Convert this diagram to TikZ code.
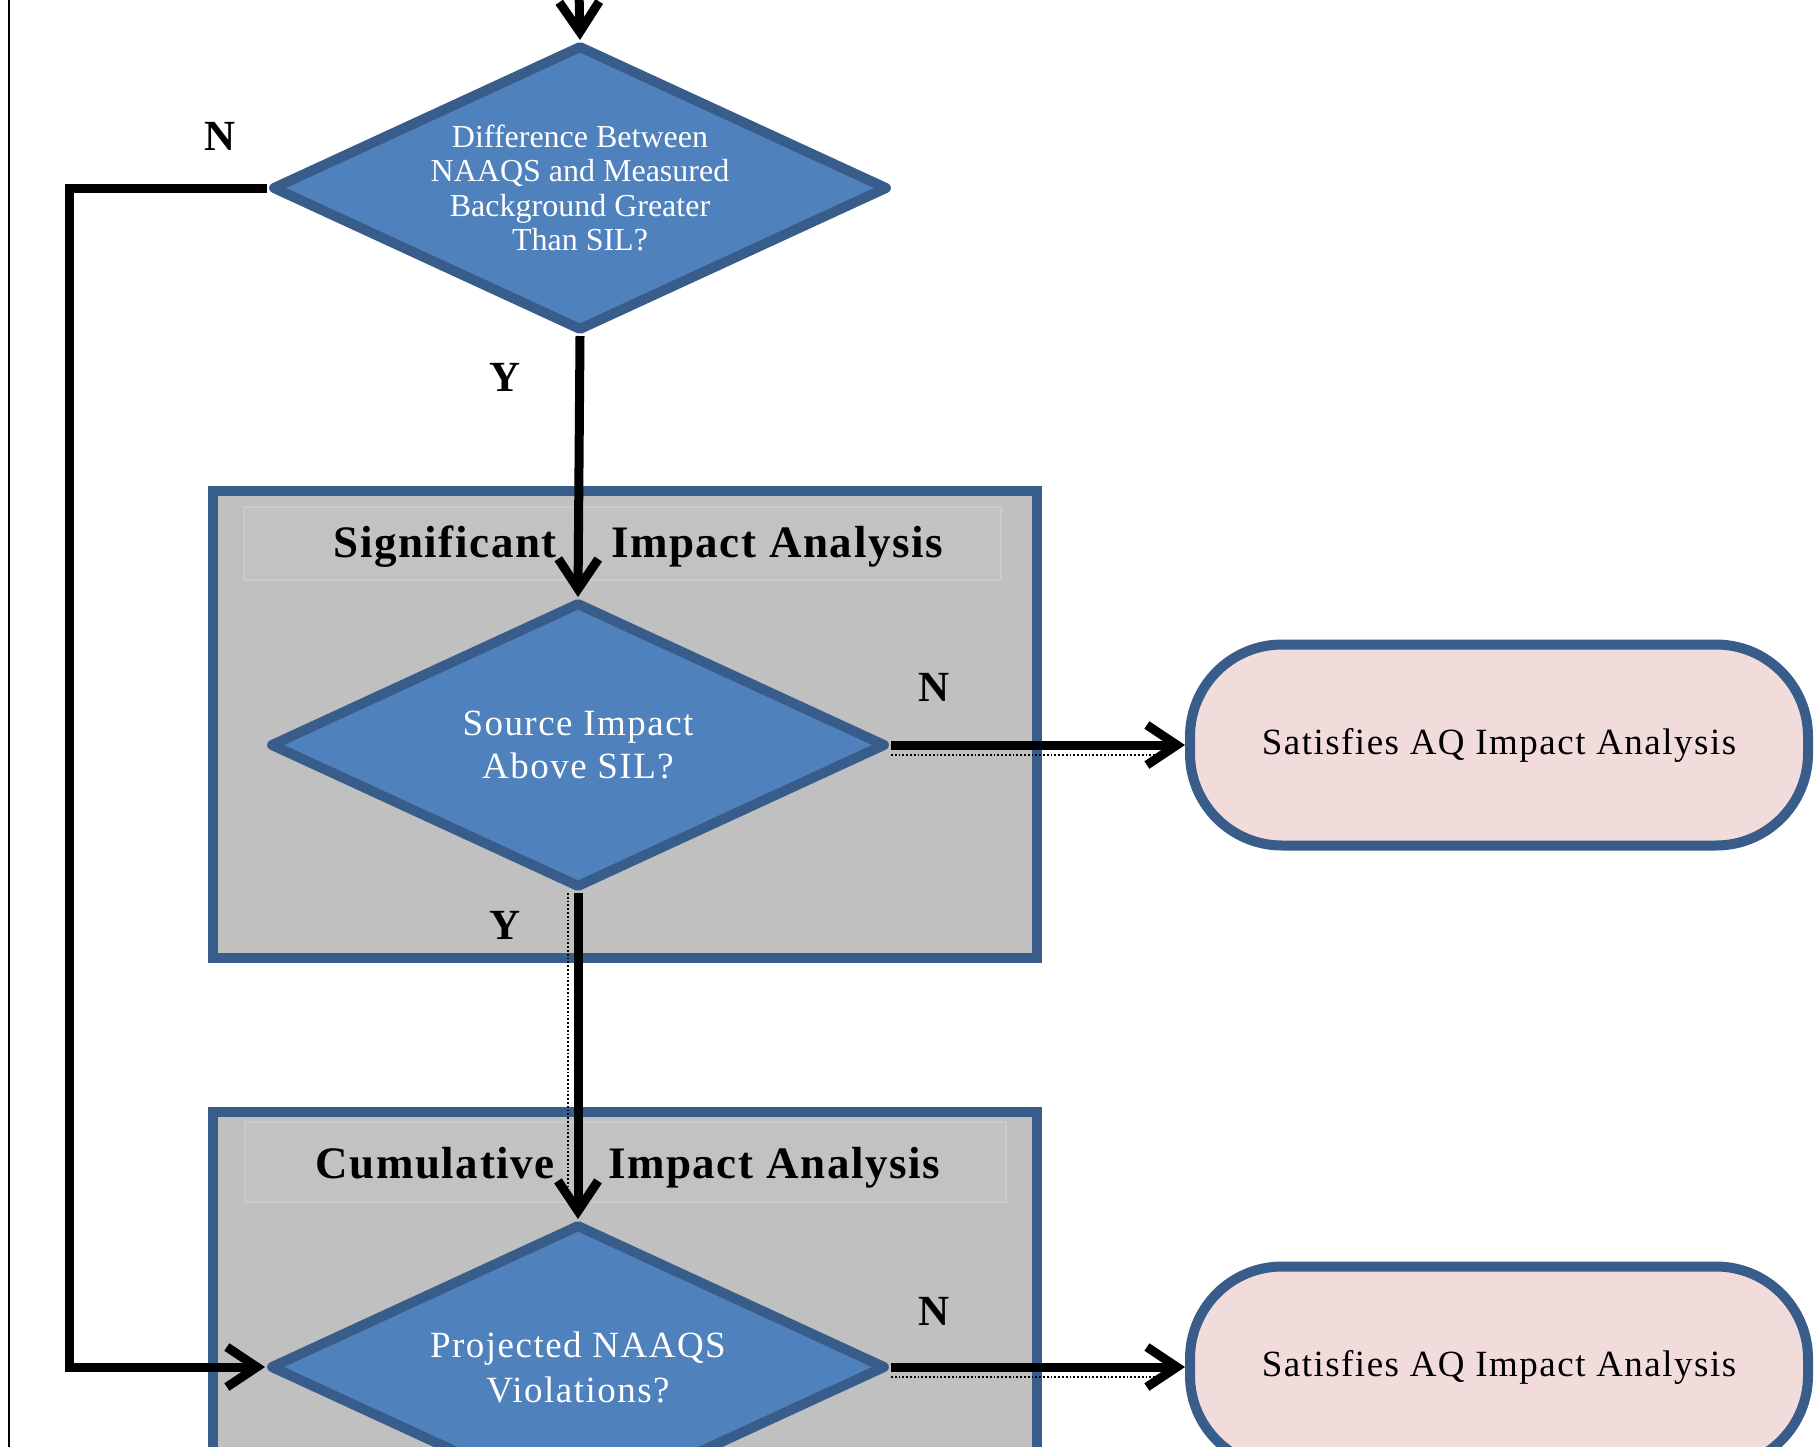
\documentclass[tikz,border=0pt]{standalone}
\usepackage{fontspec}
\setmainfont{Liberation Serif}
\newfontfamily\spacedfont[LetterSpace=4]{Liberation Serif}
\newfontfamily\titlefont[LetterSpace=3.5]{Liberation Serif}
\usetikzlibrary{shapes.geometric,arrows.meta}
\definecolor{diafill}{HTML}{4F81BD}
\definecolor{dialine}{HTML}{385D8A}
\definecolor{boxfill}{HTML}{C0C0C0}
\definecolor{termfill}{HTML}{F2DCDB}
\definecolor{titleline}{HTML}{CBCBCB}
\definecolor{titlefill}{HTML}{C2C2C2}
\begin{document}
\begin{tikzpicture}[x=1pt,y=-1pt,
  dia/.style={diamond, draw=dialine, fill=diafill, line width=10pt, line join=round,
    inner sep=0pt, minimum width=616pt, minimum height=286pt},
  dtext/.style={text=white, align=center, inner sep=0pt},
  term/.style={rectangle, rounded corners=92pt, draw=dialine, fill=termfill, line width=10pt,
    minimum width=618pt, minimum height=201pt, inner sep=0pt,
    font=\spacedfont\fontsize{37}{40}\selectfont},
  groupbox/.style={draw=dialine, fill=boxfill, line width=10pt},
  titlebox/.style={draw=titleline, fill=titlefill, line width=1.2pt},
  titletext/.style={inner sep=0pt, font=\titlefont\fontsize{45}{50}\bfseries},
  yn/.style={inner sep=0pt, font=\fontsize{43}{43}\selectfont\bfseries},
  conn/.style={line width=9pt, -{Straight Barb[length=30pt,width=40pt]}},
  ghostdots/.style={line width=1.8pt, dotted},
]
\useasboundingbox (0,0) rectangle (1819,1446);
\clip (0,0) rectangle (1819,1446);

% left thin rule
\coordinate (ruleTop) at (9,-5);
\coordinate (ruleBot) at (9,1452);
\draw[line width=2.8pt] (ruleTop) -- (ruleBot);

% group boxes
\draw[groupbox] (212.5,491) rectangle (1037,958);
\draw[titlebox] (244,507) rectangle (1001,580);
\node[titletext, anchor=base east] (sigA) at (557,557) {Significant};
\node[titletext, anchor=base west] (sigB) at (611,557) {Impact Analysis};

\draw[groupbox] (213,1112) rectangle (1037,1520);
\draw[titlebox] (245,1122) rectangle (1006,1202);
\node[titletext, anchor=base east] (cumA) at (555,1178) {Cumulative};
\node[titletext, anchor=base west] (cumB) at (608,1178) {Impact Analysis};

% decisions
\node[dia, label={[dtext, font=\fontsize{32}{34.5}\selectfont]center:{Difference Between\\NAAQS and Measured\\Background Greater\\Than SIL?}}] (d1) at (580,188) {};
\node[dia, label={[dtext, font=\spacedfont\fontsize{37}{43}\selectfont]center:{Source Impact\\Above SIL?}}] (d2) at (578,745) {};
\node[dia, label={[dtext, font=\spacedfont\fontsize{37}{45}\selectfont]center:{Projected NAAQS\\Violations?}}] (d3) at (578,1367) {};

% terminals
\node[term] (t1) at (1499,745) {Satisfies AQ Impact Analysis};
\node[term] (t2) at (1499,1367) {Satisfies AQ Impact Analysis};

% faint dotted traces beside arrows
\draw[ghostdots] ([yshift=-10pt]d2.east) -- ([yshift=-10pt,xshift=-30pt]t1.west);
\draw[ghostdots] ([yshift=-10pt]d3.east) -- ([yshift=-10pt,xshift=-30pt]t2.west);
\draw[ghostdots] ([xshift=-10pt]d2.south) -- ([xshift=-10pt,yshift=20pt]d3.north);

% connectors
\coordinate (topIn) at (579,-10);
\draw[conn] (topIn) -- (d1.north);
\draw[conn] (d1.south) -- (d2.north);
\draw[conn] (d2.east) -- (t1.west);
\draw[conn] (d2.south) -- (d3.north);
\draw[conn] (d3.east) -- (t2.west);
\coordinate (loopTop) at (69,188);
\coordinate (loopBot) at (69,1367);
\draw[conn] (d1.west) -- (loopTop) -- (loopBot) -- (d3.west);

% branch labels
\node[yn] (n1) at (220,136) {N};
\node[yn] (y1) at (505,377) {Y};
\node[yn] (n2) at (934,687) {N};
\node[yn] (y2) at (505,925) {Y};
\node[yn] (n3) at (934,1311) {N};
\end{tikzpicture}
\end{document}
